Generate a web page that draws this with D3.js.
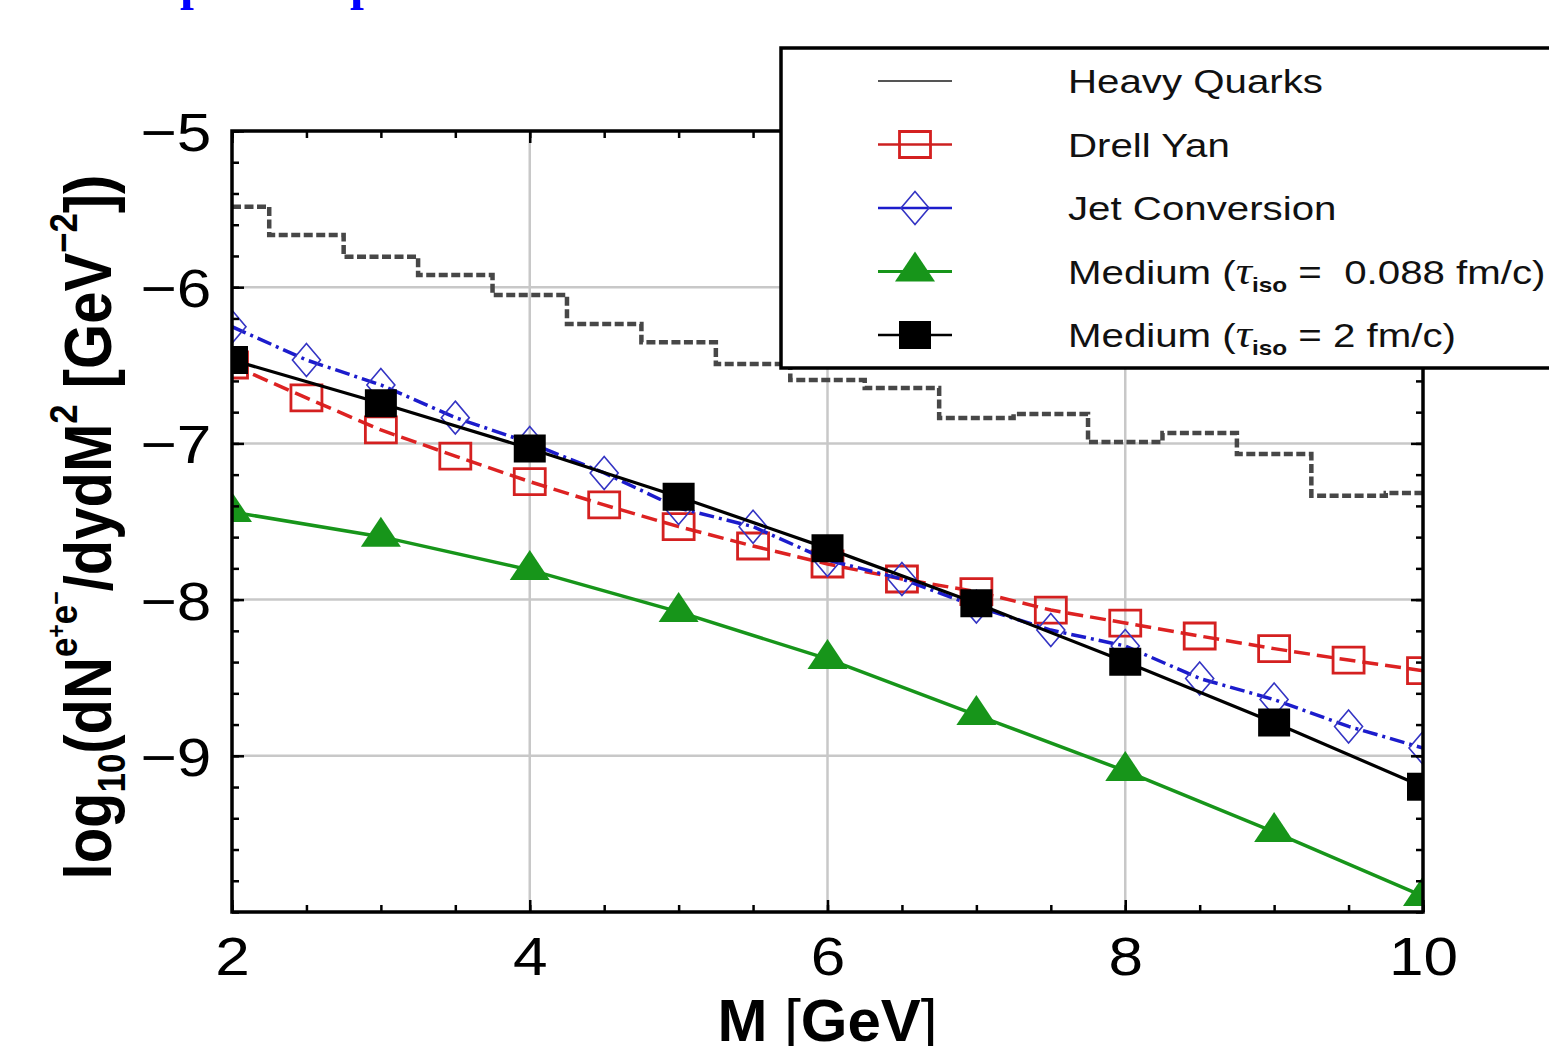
<!DOCTYPE html>
<html>
<head>
<meta charset="utf-8">
<script src="https://cdn.jsdelivr.net/npm/d3@7"></script>
<style>
  body { margin: 0; background: #fff; }
  text { font-family: "Liberation Sans", Arial, sans-serif; white-space: pre; }
</style>
</head>
<body>
<svg id="chart" width="1549" height="1046"></svg>
<script>
// values (log10 of yield)
var massHalf = [2, 2.5, 3, 3.5, 4, 4.5, 5, 5.5, 6, 6.5, 7, 7.5, 8, 8.5, 9, 9.5, 10];
var massInt = [2, 3, 4, 5, 6, 7, 8, 9, 10];

var heavyQuarks = [-5.485, -5.666, -5.805, -5.922, -6.050, -6.236, -6.353, -6.492, -6.594,
                   -6.645, -6.837, -6.812, -6.991, -6.933, -7.068, -7.335, -7.318];
var drellYan = [-6.498, -6.709, -6.914, -7.081, -7.245, -7.394, -7.533, -7.657, -7.772,
                -7.868, -7.949, -8.067, -8.150, -8.233, -8.314, -8.387, -8.455];
var jetConversion = [-6.253, -6.466, -6.626, -6.835, -6.997, -7.189, -7.414, -7.533, -7.746,
                     -7.868, -8.045, -8.195, -8.297, -8.505, -8.640, -8.812, -8.950];
var mediumShort = [-7.439, -7.597, -7.810, -8.079, -8.380, -8.739, -9.097, -9.488, -9.898];
var mediumLong = [-6.466, -6.743, -7.033, -7.341, -7.672, -8.024, -8.398, -8.787, -9.198];

var xTicks = [2, 4, 6, 8, 10];
var yTicks = [-5, -6, -7, -8, -9];
var seriesNames = ["Heavy Quarks", "Drell Yan", "Jet Conversion",
                   "Medium (τiso =  0.088 fm/c)", "Medium (τiso = 2 fm/c)"];

var svg = d3.select("#chart");
var pL = 232, pR = 1423, pT = 131, pB = 912;
var x = d3.scaleLinear().domain([2, 10]).range([pL, pR]);
var y = d3.scaleLinear().domain([-10, -5]).range([pB, pT]);
var sx = 1.2; // the picture is a bit wide

svg.append("rect").attr("width", 1549).attr("height", 1046).attr("fill", "#fff");

// cut-off blue heading at the very top
svg.selectAll(".head").data([180, 350]).join("text")
  .attr("x", function(d) { return d; }).attr("y", -1)
  .style("font-family", "'Liberation Serif', serif").style("font-weight", "bold")
  .style("font-size", "50px").attr("fill", "#0000ff").text("p");

// grid
svg.append("g").selectAll("line").data(xTicks.filter(function(d) { return d > 2 && d < 10; }))
  .join("line")
  .attr("x1", function(d) { return x(d); }).attr("x2", function(d) { return x(d); })
  .attr("y1", pT).attr("y2", pB)
  .attr("stroke", "#c8c8c8").attr("stroke-width", 2.5);
svg.append("g").selectAll("line").data(yTicks.filter(function(d) { return d < -5; }))
  .join("line")
  .attr("y1", function(d) { return y(d); }).attr("y2", function(d) { return y(d); })
  .attr("x1", pL).attr("x2", pR)
  .attr("stroke", "#c8c8c8").attr("stroke-width", 2.5);

// data
svg.append("clipPath").attr("id", "plotclip").append("rect")
  .attr("x", pL).attr("y", pT).attr("width", pR - pL).attr("height", pB - pT);
var plot = svg.append("g").attr("clip-path", "url(#plotclip)");

function pairs(xs, ys) { return xs.map(function(m, i) { return [m, ys[i]]; }); }
var line = d3.line().x(function(d) { return x(d[0]); }).y(function(d) { return y(d[1]); });

function squarePath(w, h) { return "M" + (-w/2) + "," + (-h/2) + "h" + w + "v" + h + "h" + (-w) + "Z"; }
function diamondPath(w, h) { return "M0," + (-h/2) + "L" + (w/2) + ",0L0," + (h/2) + "L" + (-w/2) + ",0Z"; }
function trianglePath(w, h) { return "M0," + (-2*h/3) + "L" + (w/2) + "," + (h/3) + "L" + (-w/2) + "," + (h/3) + "Z"; }

var series = [
  { data: pairs(massHalf, heavyQuarks), color: "#474747", width: 4.5, dash: "9,3.5", step: true },
  { data: pairs(massInt, mediumShort), color: "#17951a", width: 3.5, dash: null,
    marker: trianglePath(40, 30), fill: "#17951a", mstroke: "none" },
  { data: pairs(massHalf, drellYan), color: "#dd2222", width: 3.5, dash: "16,7",
    marker: squarePath(31, 26), fill: "none", mstroke: "#d42020", mwidth: 2.8 },
  { data: pairs(massHalf, jetConversion), color: "#1c1ccc", width: 3.5, dash: "15,5,3,5",
    marker: diamondPath(28, 33), fill: "none", mstroke: "#3434c4", mwidth: 1.6 },
  { data: pairs(massInt, mediumLong), color: "#000", width: 3.2, dash: null,
    marker: squarePath(32, 28), fill: "#000", mstroke: "none" }
];

series.forEach(function(s) {
  plot.append("path")
    .attr("d", s.step ? line.curve(d3.curveStep)(s.data) : line.curve(d3.curveLinear)(s.data))
    .attr("fill", "none").attr("stroke", s.color).attr("stroke-width", s.width)
    .attr("stroke-dasharray", s.dash);
  if (s.marker) {
    plot.append("g").selectAll("path").data(s.data).join("path")
      .attr("transform", function(d) { return "translate(" + x(d[0]) + "," + y(d[1]) + ")"; })
      .attr("d", s.marker).attr("fill", s.fill)
      .attr("stroke", s.mstroke).attr("stroke-width", s.mwidth || 0);
  }
});

// frame ticks, all pointing inward
var xMinor = d3.range(2, 10.01, 0.5), yMinor = d3.range(-10, -4.99, 0.2);
function tickAxis(axis, tr) {
  var g = svg.append("g").attr("transform", tr).call(axis);
  g.select(".domain").remove();
  g.selectAll("line").attr("stroke", "#000").attr("stroke-width", 2.5);
  return g;
}
tickAxis(d3.axisBottom(x).tickValues(xMinor).tickSize(-7).tickFormat(""), "translate(0," + pB + ")");
tickAxis(d3.axisTop(x).tickValues(xMinor).tickSize(-7).tickFormat(""), "translate(0," + pT + ")");
tickAxis(d3.axisLeft(y).tickValues(yMinor).tickSize(-7).tickFormat(""), "translate(" + pL + ",0)");
tickAxis(d3.axisRight(y).tickValues(yMinor).tickSize(-7).tickFormat(""), "translate(" + pR + ",0)");
tickAxis(d3.axisTop(x).tickValues(xTicks).tickSize(-12).tickFormat(""), "translate(0," + pT + ")");
tickAxis(d3.axisRight(y).tickValues(yTicks).tickSize(-12).tickFormat(""), "translate(" + pR + ",0)");

var gx = tickAxis(d3.axisBottom(x).tickValues(xTicks).tickSize(-12).tickPadding(25)
  .tickFormat(d3.format("d")), "translate(0," + pB + ")");
var gy = tickAxis(d3.axisLeft(y).tickValues(yTicks).tickSize(-12).tickPadding(18)
  .tickFormat(d3.format("d")), "translate(" + pL + ",0)");
[gx, gy].forEach(function(g) {
  g.selectAll("text").attr("fill", "#000").attr("transform", "scale(1.15,1)")
    .style("font-family", "'Liberation Sans', Arial, sans-serif").style("font-size", "54px");
});
gy.selectAll("text").attr("dy", "0.36em");

svg.append("rect").attr("x", pL).attr("y", pT).attr("width", pR - pL).attr("height", pB - pT)
  .attr("fill", "none").attr("stroke", "#000").attr("stroke-width", 3.5);

// axis titles
var xt = svg.append("text").attr("x", (pL + pR) / 2).attr("y", 1041)
  .attr("text-anchor", "middle").style("font-size", "60px");
xt.append("tspan").style("font-weight", "bold").text("M ");
xt.append("tspan").text("[");
xt.append("tspan").style("font-weight", "bold").text("GeV");
xt.append("tspan").text("]");

var yt = svg.append("text").attr("text-anchor", "middle")
  .style("font-weight", "bold").style("font-size", "55px");
[["log", 55, 0], ["10", 33, 12], ["(dN", 55, -12], ["e", 33, -28], ["+", 22, -10], ["e", 33, 10],
 ["−", 22, -10], ["/dydM", 55, 38], ["2", 33, -28], [" [GeV", 55, 28], ["−2", 33, -28], ["])", 55, 28]]
  .forEach(function(p) {
    yt.append("tspan").style("font-size", p[1] + "px").attr("dy", p[2]).text(p[0]);
  });
var ylen = yt.node().getComputedTextLength();
yt.attr("transform", "translate(111,527) scale(" + sx + "," + (705 / ylen) + ") rotate(-90)");

// legend
var lg = svg.append("g");
lg.append("rect").attr("x", 781).attr("y", 48).attr("width", 820).attr("height", 320)
  .attr("fill", "#fff").attr("stroke", "#000").attr("stroke-width", 3.5);
var legendStyle = [
  { color: "#555", width: 2 },
  { color: "#cc2020", width: 2.5, s: series[2] },
  { color: "#1c1ccc", width: 2.5, s: series[3] },
  { color: "#17951a", width: 3, s: series[1] },
  { color: "#000", width: 2.5, s: series[4] }
];
seriesNames.forEach(function(name, i) {
  var cy = 81 + i * 63.5, st = legendStyle[i];
  lg.append("line").attr("x1", 878).attr("x2", 952).attr("y1", cy).attr("y2", cy)
    .attr("stroke", st.color).attr("stroke-width", st.width);
  if (st.s) {
    lg.append("path").attr("transform", "translate(915," + cy + ")").attr("d", st.s.marker)
      .attr("fill", st.s.fill).attr("stroke", st.s.mstroke).attr("stroke-width", st.s.mwidth || 0);
  }
  var t = lg.append("g").attr("transform", "translate(1068," + (cy + 12) + ") scale(1.22,1)")
    .append("text").style("font-size", "33px").attr("fill", "#111");
  var k = name.indexOf("τiso");
  if (k < 0) { t.text(name); return; }
  t.append("tspan").text(name.slice(0, k));
  t.append("tspan").style("font-family", "'Liberation Serif', serif").style("font-style", "italic")
    .style("font-size", "37px").text("τ");
  t.append("tspan").style("font-size", "20px").style("font-weight", "bold").attr("dy", 8).text("iso");
  t.append("tspan").attr("dy", -8).text(name.slice(k + 4));
});
</script>
</body>
</html>
